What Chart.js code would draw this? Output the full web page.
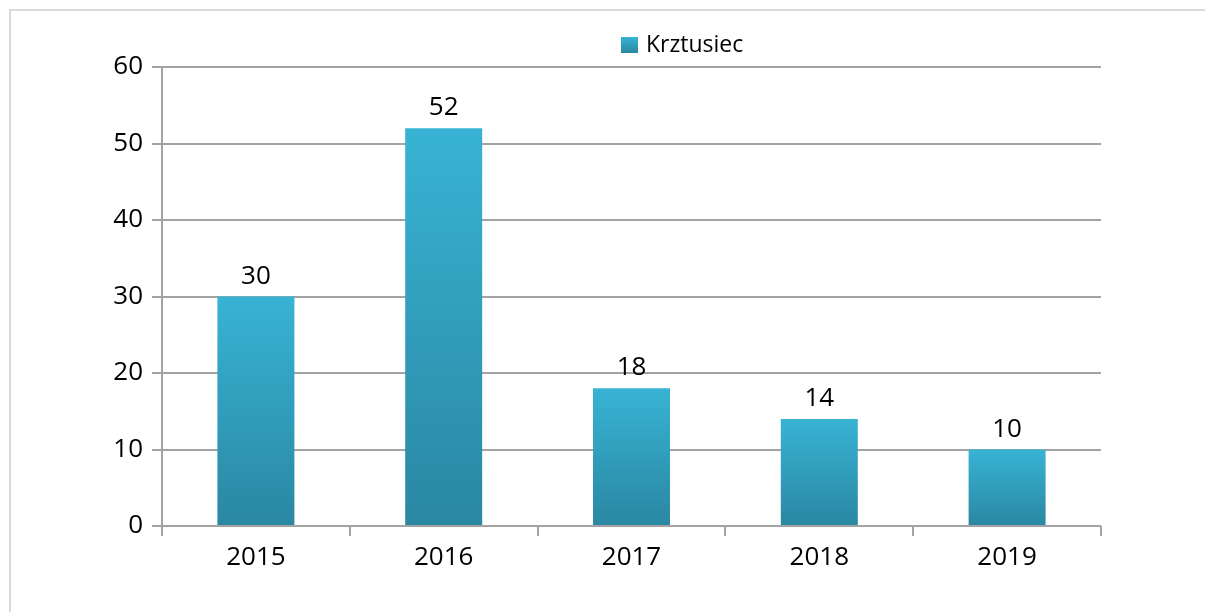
<!DOCTYPE html>
<html>
<head>
<meta charset="utf-8">
<script src="https://cdn.jsdelivr.net/npm/chart.js@4"></script>
<style>
  html, body { margin: 0; padding: 0; background: #fff; }
  .wrap { position: relative; width: 1205px; height: 612px; overflow: hidden; }
  .frame { position: absolute; left: 9px; top: 9px; width: 1400px; height: 800px;
    border-top: 2px solid #dadada; border-left: 2px solid #dadada; }
  canvas { position: absolute; left: 0; top: 0; }
</style>
</head>
<body>
<div class="wrap">
  <div class="frame"></div>
  <canvas id="chart" width="1205" height="612"></canvas>
</div>
<script>
const years = ['2015', '2016', '2017', '2018', '2019'];
const cases = [30, 52, 18, 14, 10];
const seriesName = 'Krztusiec';

const FONT = "'Open Sans', 'DejaVu Sans', sans-serif";
const TOP_COLOR = '#38b3d4';
const BOTTOM_COLOR = '#2a87a2';
const GRID = '#a3a3a3';

const barGradient = (ctx) => {
  const chart = ctx.chart;
  if (!chart.chartArea || ctx.raw === undefined) return TOP_COLOR;
  const y = chart.scales.y;
  const top = y.getPixelForValue(ctx.raw);
  const bottom = y.getPixelForValue(0);
  const g = chart.ctx.createLinearGradient(0, top, 0, bottom);
  g.addColorStop(0, TOP_COLOR);
  g.addColorStop(1, BOTTOM_COLOR);
  return g;
};

// value labels above the bars
const valueLabels = {
  id: 'valueLabels',
  afterDatasetsDraw(chart) {
    const c = chart.ctx;
    const meta = chart.getDatasetMeta(0);
    c.save();
    c.font = '26px ' + FONT;
    c.fillStyle = '#000';
    c.textAlign = 'center';
    c.textBaseline = 'alphabetic';
    meta.data.forEach((bar, i) => {
      c.fillText(chart.data.datasets[0].data[i], bar.x, bar.y - 13);
    });
    c.restore();
  },
};

// single-entry legend, placed like the original
const legendBox = {
  id: 'legendBox',
  afterDraw(chart) {
    const c = chart.ctx;
    const x = 621, y = 37, s = 16;
    const g = c.createLinearGradient(0, y, 0, y + s);
    g.addColorStop(0, TOP_COLOR);
    g.addColorStop(1, BOTTOM_COLOR);
    c.save();
    c.fillStyle = g;
    c.fillRect(x, y, s + 1, s);
    c.font = '23px ' + FONT;
    c.fillStyle = '#000';
    c.textBaseline = 'alphabetic';
    c.textAlign = 'left';
    c.fillText(chart.data.datasets[0].label, x + 25, y + 15);
    c.restore();
  },
};

new Chart(document.getElementById('chart'), {
  type: 'bar',
  data: {
    labels: years,
    datasets: [
      {
        label: seriesName,
        data: cases,
        backgroundColor: barGradient,
        borderWidth: 0,
        categoryPercentage: 1,
        barPercentage: 0.41,
      },
    ],
  },
  options: {
    responsive: false,
    animation: false,
    events: [],
    layout: {
      padding: { top: 67, right: 104, bottom: 0, left: 0 },
    },
    plugins: {
      legend: { display: false },
      tooltip: { enabled: false },
    },
    scales: {
      x: {
        offset: true,
        grid: {
          offset: true,
          drawOnChartArea: false,
          drawTicks: true,
          tickLength: 10,
          color: GRID,
          lineWidth: 2,
        },
        border: { display: false },
        ticks: {
          color: '#000',
          padding: 6,
          font: { family: FONT, size: 26 },
        },
        afterFit(scale) {
          scale.height = 86;
        },
      },
      y: {
        min: 0,
        max: 60,
        grid: {
          color: GRID,
          lineWidth: 2,
          tickLength: 10,
        },
        border: { color: GRID, width: 2 },
        ticks: {
          stepSize: 10,
          color: '#000',
          padding: 9,
          font: { family: FONT, size: 26 },
        },
        afterFit(scale) {
          scale.width = 162;
        },
      },
    },
  },
  plugins: [valueLabels, legendBox],
});
</script>
</body>
</html>
